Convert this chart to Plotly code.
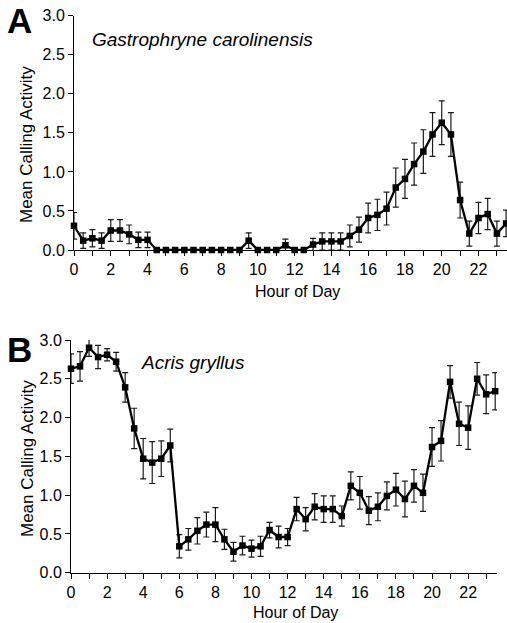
import plotly.graph_objects as go

hours = [i * 0.5 for i in range(48)]

gast_mean = [0.31, 0.12, 0.15, 0.12, 0.25, 0.25, 0.20, 0.13, 0.13, 0.0,
             0.0, 0.0, 0.0, 0.0, 0.0, 0.0, 0.0, 0.0, 0.0, 0.12,
             0.0, 0.0, 0.0, 0.06, 0.0, 0.0, 0.07, 0.11, 0.11, 0.11,
             0.18, 0.26, 0.41, 0.45, 0.53, 0.80, 0.91, 1.10, 1.26, 1.48,
             1.63, 1.48, 0.64, 0.21, 0.41, 0.46, 0.21, 0.34]
gast_err = [0.17, 0.10, 0.11, 0.10, 0.14, 0.14, 0.12, 0.10, 0.10, 0.0,
            0.0, 0.0, 0.0, 0.0, 0.0, 0.0, 0.0, 0.0, 0.0, 0.10,
            0.0, 0.0, 0.0, 0.08, 0.0, 0.0, 0.08, 0.11, 0.11, 0.11,
            0.14, 0.16, 0.19, 0.20, 0.21, 0.25, 0.25, 0.27, 0.28, 0.28,
            0.28, 0.28, 0.23, 0.16, 0.20, 0.20, 0.16, 0.17]

acris_mean = [2.63, 2.66, 2.90, 2.78, 2.81, 2.72, 2.39, 1.86, 1.47, 1.42,
              1.47, 1.64, 0.34, 0.43, 0.54, 0.62, 0.62, 0.43, 0.27, 0.35,
              0.31, 0.34, 0.55, 0.46, 0.46, 0.82, 0.69, 0.85, 0.82, 0.82,
              0.73, 1.12, 1.03, 0.80, 0.85, 0.99, 1.07, 0.95, 1.12, 1.03,
              1.62, 1.70, 2.46, 1.92, 1.87, 2.50, 2.30, 2.34]
acris_err = [0.19, 0.19, 0.11, 0.15, 0.08, 0.12, 0.19, 0.26, 0.26, 0.27,
             0.23, 0.21, 0.15, 0.14, 0.17, 0.16, 0.22, 0.13, 0.12, 0.12,
             0.11, 0.13, 0.10, 0.14, 0.11, 0.15, 0.15, 0.17, 0.17, 0.17,
             0.13, 0.18, 0.21, 0.18, 0.18, 0.18, 0.21, 0.23, 0.21, 0.24,
             0.25, 0.26, 0.21, 0.28, 0.28, 0.21, 0.25, 0.24]

x_tickvals = list(range(0, 24))
x_ticktext = [str(v) if v % 2 == 0 else "" for v in x_tickvals]
y_tickvals = [0, 0.5, 1.0, 1.5, 2.0, 2.5, 3.0]
y_ticktext = ["0.0", "0.5", "1.0", "1.5", "2.0", "2.5", "3.0"]

W, H = 507, 623
FONT = "Liberation Sans, Arial, sans-serif"


def px(x):
    return x / W


def py(y):
    return 1 - y / H


fig = go.Figure()

for mean, err, xa, ya in [(gast_mean, gast_err, "x", "y"), (acris_mean, acris_err, "x2", "y2")]:
    fig.add_trace(go.Scatter(
        x=hours, y=mean, xaxis=xa, yaxis=ya, mode="lines+markers",
        line=dict(color="black", width=2.3),
        marker=dict(symbol="square", size=6.5, color="black"),
        error_y=dict(type="data", array=err, visible=True, color="#1a1a1a",
                     thickness=1.2, width=3),
        cliponaxis=False, showlegend=False,
    ))

axis_common = dict(
    showgrid=False, zeroline=False, showline=True, linecolor="black", linewidth=1,
    ticks="outside", ticklen=5, tickwidth=1, tickcolor="black", automargin=False,
    tickfont=dict(family=FONT, size=16, color="black"),
)

fig.update_layout(
    width=W, height=H, margin=dict(l=0, r=0, t=0, b=0),
    paper_bgcolor="white", plot_bgcolor="white",
    xaxis=dict(domain=[px(74), 1.0], range=[0, 23.55], anchor="y",
               tickvals=x_tickvals, ticktext=x_ticktext, **axis_common),
    yaxis=dict(domain=[py(250), py(15.7)], range=[0, 3], anchor="x",
               tickvals=y_tickvals, ticktext=y_ticktext, **axis_common),
    xaxis2=dict(domain=[px(71), px(497)], range=[0, 23.6], anchor="y2",
                tickvals=x_tickvals, ticktext=x_ticktext, **axis_common),
    yaxis2=dict(domain=[py(572.7), py(340)], range=[0, 3], anchor="x2",
                tickvals=y_tickvals, ticktext=y_ticktext, **axis_common),
)

annotations = [
    dict(text="<b>A</b>", x=px(5), y=py(21), xanchor="left", yanchor="middle",
         font=dict(family=FONT, size=35, color="black")),
    dict(text="<b>B</b>", x=px(5), y=py(349), xanchor="left", yanchor="middle",
         font=dict(family=FONT, size=35, color="black")),
    dict(text="<i>Gastrophryne carolinensis</i>", x=px(90), y=py(40),
         xanchor="left", yanchor="middle", font=dict(family=FONT, size=19, color="black")),
    dict(text="<i>Acris gryllus</i>", x=px(139), y=py(362),
         xanchor="left", yanchor="middle", font=dict(family=FONT, size=19, color="black")),
    dict(text="Mean Calling Activity", x=px(27), y=py(145), textangle=-90,
         xanchor="center", yanchor="middle", font=dict(family=FONT, size=17, color="black")),
    dict(text="Mean Calling Activity", x=px(27), y=py(459), textangle=-90,
         xanchor="center", yanchor="middle", font=dict(family=FONT, size=17, color="black")),
    dict(text="Hour of Day", x=px(297), y=py(291), xanchor="center", yanchor="middle",
         font=dict(family=FONT, size=16, color="black")),
    dict(text="Hour of Day", x=px(295), y=py(612), xanchor="center", yanchor="middle",
         font=dict(family=FONT, size=16, color="black")),
]
for a in annotations:
    a.update(xref="paper", yref="paper", showarrow=False)
fig.update_layout(annotations=annotations)

fig.write_html(
    "out.html",
    config={"displayModeBar": False},
    post_script="document.body.style.margin='0';document.body.style.overflow='hidden';",
)
